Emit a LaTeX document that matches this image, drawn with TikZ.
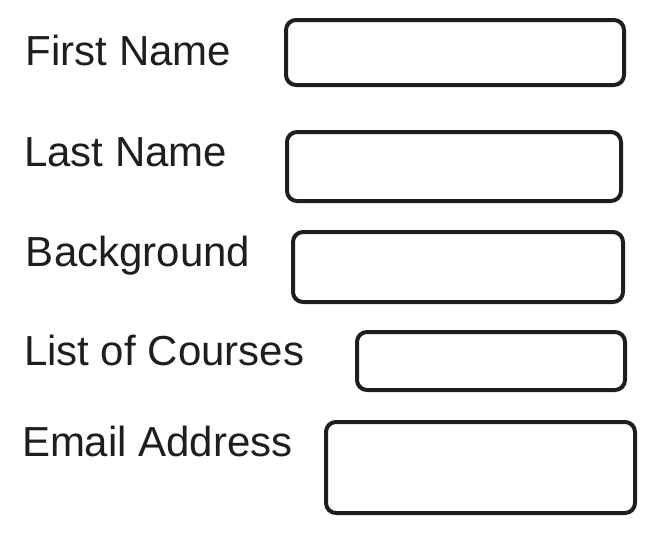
\documentclass[tikz,border=0pt]{standalone}
\usepackage{fontspec}
\setmainfont{Liberation Sans}
\usepackage{tikz}
\definecolor{ink}{HTML}{1E1E1E}
\tikzset{every picture/.style={line width=4pt, ink}}
\tikzset{lbl/.style={anchor=base west, inner sep=0pt, text=ink, font=\fontsize{42}{46}\selectfont}}
\tikzset{field/.style={draw=ink, rounded corners=10pt, inner sep=0pt}}

\begin{document}
\begin{tikzpicture}[x=1pt,y=-1pt]
\useasboundingbox (0,0) rectangle (657,533);
\node[lbl] (l1) at (24,65) {First Name};
\node[lbl] (l2) at (22,166) {Last Name};
\node[lbl] (l3) at (24,266) {Background};
\node[lbl] (l4) at (22,365) {List of Courses};
\node[lbl] (l5) at (20,456) {Email Address};
\node[field, minimum width=338pt, minimum height=65pt] (b1) at (455,52.5) {};
\node[field, minimum width=334pt, minimum height=69pt] (b2) at (454,166.5) {};
\node[field, minimum width=330pt, minimum height=70pt] (b3) at (458,267) {};
\node[field, minimum width=268pt, minimum height=58pt] (b4) at (491,361) {};
\node[field, minimum width=309pt, minimum height=91pt] (b5) at (480.5,467.5) {};
\end{tikzpicture}
\end{document}
